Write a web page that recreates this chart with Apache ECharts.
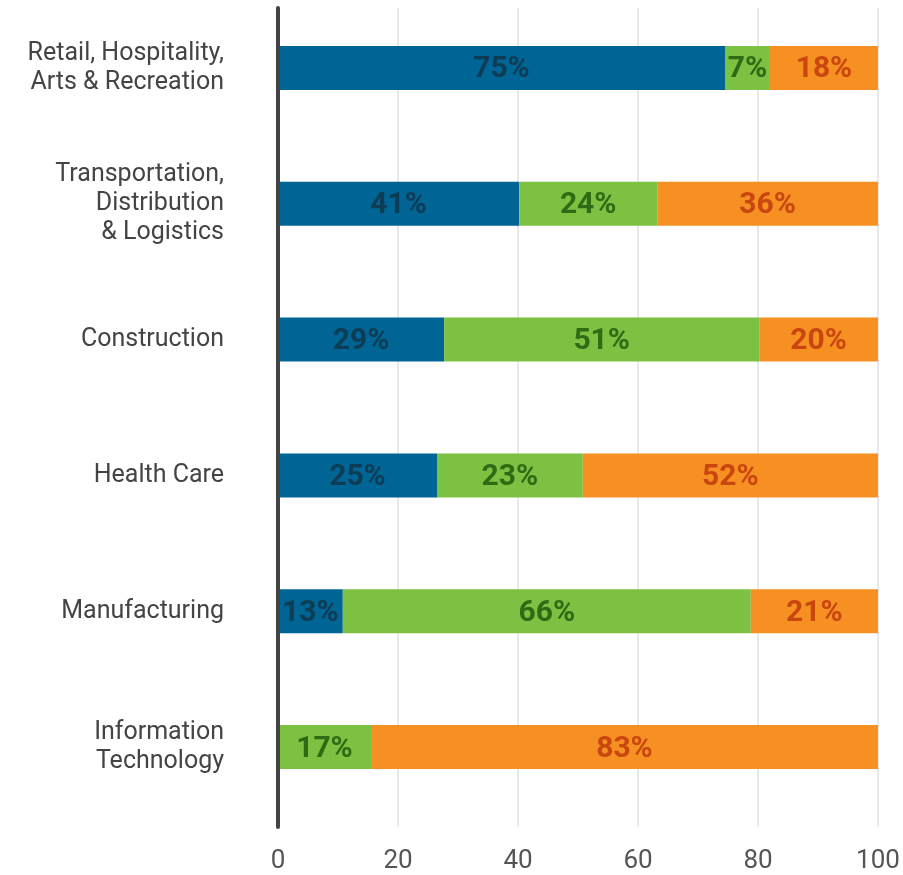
<!DOCTYPE html>
<html>
<head>
<meta charset="utf-8">
<script src="https://cdn.jsdelivr.net/npm/echarts@6/dist/echarts.min.js"></script>
<style>
  html, body { margin: 0; padding: 0; background: #fff; }
  #chart { width: 903px; height: 875px; }
</style>
</head>
<body>
<div id="chart"></div>
<script>
const categories = [
  'Retail, Hospitality,\nArts & Recreation',
  'Transportation,\nDistribution\n& Logistics',
  'Construction',
  'Health Care',
  'Manufacturing',
  'Information\nTechnology'
];

// bar lengths as drawn
const blueValues = [74.5, 40.2, 27.7, 26.5, 10.8, 0];
const greenValues = [7.5, 23, 52.5, 24.3, 68, 15.5];
const orangeValues = [18, 36.8, 19.8, 49.2, 21.2, 84.5];

// printed labels
const blueLabels = ['75%', '41%', '29%', '25%', '13%', ''];
const greenLabels = ['7%', '24%', '51%', '23%', '66%', '17%'];
const orangeLabels = ['18%', '36%', '20%', '52%', '21%', '83%'];

const xTicks = [0, 20, 40, 60, 80, 100];

const font = 'Roboto, sans-serif';

const chart = echarts.init(document.getElementById('chart'));

function barSeries(name, values, labels, color, labelColor) {
  return {
    name: name,
    type: 'bar',
    stack: 'total',
    xAxisIndex: 1,
    yAxisIndex: 1,
    barWidth: 44,
    data: values,
    itemStyle: { color: color },
    label: {
      show: true,
      position: 'inside',
      formatter: (p) => labels[p.dataIndex],
      color: labelColor,
      fontFamily: font,
      fontWeight: 'bold',
      fontSize: 30,
      offset: [0, 2]
    }
  };
}

const option = {
  animation: false,
  grid: [
    // frame: split lines, bottom ticks, thick zero line
    { left: 278, right: 25, top: 8, bottom: 48 },
    // bars and category labels
    { left: 278, right: 25, top: 0, bottom: 60 }
  ],
  xAxis: [
    {
      gridIndex: 0,
      type: 'value',
      min: 0,
      max: 100,
      interval: 20,
      axisLine: { show: false },
      axisTick: { show: false },
      axisLabel: {
        color: '#555',
        fontFamily: font,
        fontSize: 26,
        margin: 21,
        formatter: (v) => (xTicks.includes(v) ? String(v) : '')
      },
      splitLine: { show: true, lineStyle: { color: '#e8e8e8', width: 2 } }
    },
    {
      gridIndex: 1,
      type: 'value',
      min: 0,
      max: 100,
      show: false
    }
  ],
  yAxis: [
    {
      gridIndex: 0,
      type: 'value',
      min: 0,
      max: 1,
      z: 5,
      axisLine: { show: true, onZero: false, lineStyle: { color: '#444', width: 4, cap: 'round' } },
      axisTick: { show: false },
      axisLabel: { show: false },
      splitLine: { show: false }
    },
    {
      gridIndex: 1,
      type: 'category',
      inverse: true,
      data: categories,
      axisLine: { show: false },
      axisTick: { show: false },
      axisLabel: {
        color: '#444',
        fontFamily: font,
        fontSize: 25,
        lineHeight: 29,
        margin: 54,
        align: 'right'
      }
    }
  ],
  series: [
    barSeries('Blue', blueValues, blueLabels, '#006494', '#0d3c55'),
    barSeries('Green', greenValues, greenLabels, '#7dc143', '#2f6b14'),
    barSeries('Orange', orangeValues, orangeLabels, '#f79022', '#c9460f')
  ]
};

chart.setOption(option);
</script>
</body>
</html>
